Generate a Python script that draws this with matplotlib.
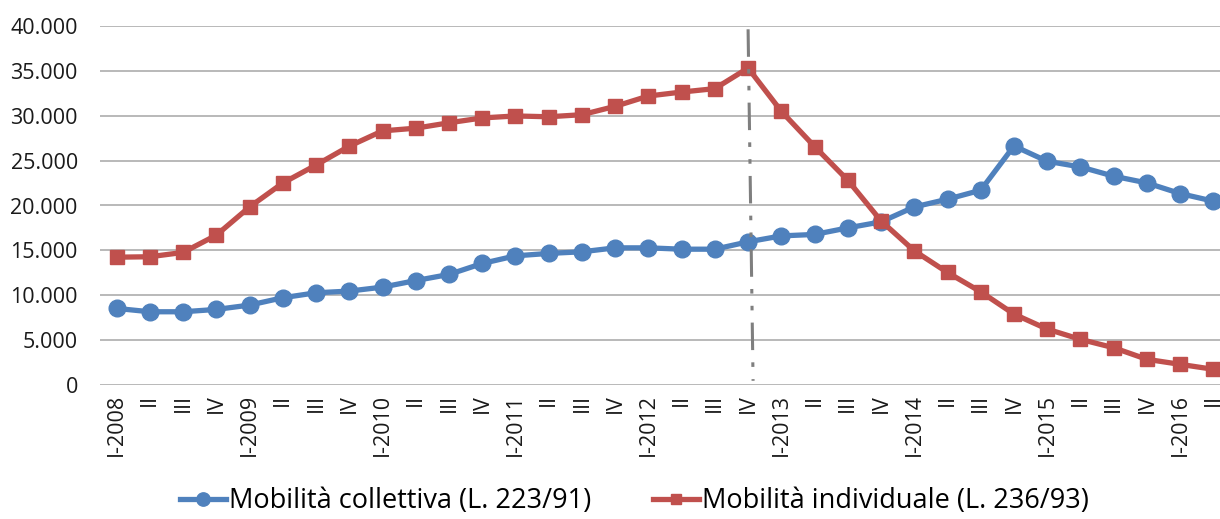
import numpy as np
import matplotlib
matplotlib.use("Agg")
import matplotlib.pyplot as plt
import matplotlib.ticker as mticker

# quarters I-2008 .. II-2016
quarter_labels = []
for yr in range(2008, 2017):
    for q in ["I", "II", "III", "IV"]:
        quarter_labels.append("I-%d" % yr if q == "I" else q)
quarter_labels = quarter_labels[:34]

collettiva = [8550, 8180, 8180, 8440, 8920, 9740, 10290, 10480, 10920, 11650,
              12330, 13550, 14400, 14670, 14850, 15290, 15290, 15140, 15140, 15960,
              16620, 16780, 17510, 18180, 19840, 20700, 21700, 26620, 24920, 24290,
              23260, 22510, 21330, 20480]
individuale = [14250, 14300, 14780, 16700, 19840, 22500, 24500, 26600, 28300, 28600,
               29200, 29740, 29960, 29870, 30100, 31030, 32180, 32620, 33000, 35290,
               30480, 26560, 22810, 18290, 14960, 12550, 10400, 7920, 6250, 5110,
               4180, 2890, 2330, 1780]

plt.rcParams['font.family'] = ['Open Sans', 'DejaVu Sans']

fig = plt.figure(figsize=(12.2, 5.19), dpi=100)
# plot area runs past the right edge like the cropped original
ax = fig.add_axes([100 / 1220, 1 - 385.3 / 519, 1130 / 1220, 359.6 / 519])

x = np.arange(len(quarter_labels))
ax.plot(x, collettiva, color="#4F81BD", lw=3.8, marker="o", ms=12,
        label="Mobilità collettiva (L. 223/91)", zorder=3)
ax.plot(x, individuale, color="#C0504D", lw=3.8, marker="s", ms=9.5,
        label="Mobilità individuale (L. 236/93)", zorder=3)

# dash-dot-dot marker line at IV-2012
ax.plot([19, 19.15], [39600, 500], color="#7F7F7F", lw=2.2,
        dashes=[9, 4, 1.5, 4, 1.5, 4], zorder=4)

ax.set_xlim(-0.5, len(quarter_labels) - 0.5)
ax.set_ylim(0, 40000)
ax.set_yticks(np.arange(0, 40001, 5000))
ax.yaxis.set_major_formatter(mticker.FuncFormatter(lambda v, p: "{:,.0f}".format(v).replace(",", ".")))
ax.set_xticks(x)
ax.set_xticklabels(quarter_labels, rotation=90, va="top", ha="center")
ax.tick_params(length=0, labelsize=15.5, colors="#1a1a1a")
ax.tick_params(axis="y", pad=16)
ax.tick_params(axis="x", pad=6)
ax.grid(axis="y", color="#A6A6A6", lw=1.1)
ax.set_axisbelow(True)
for s in ax.spines.values():
    s.set_visible(False)

fig.legend(loc="center", bbox_to_anchor=(0.52, 1 - 501 / 519), ncol=2, frameon=False,
           fontsize=19.5, handlelength=1.7, handletextpad=0.1, columnspacing=2.3,
           markerscale=0.8)

fig.savefig("out.png", dpi=100)
